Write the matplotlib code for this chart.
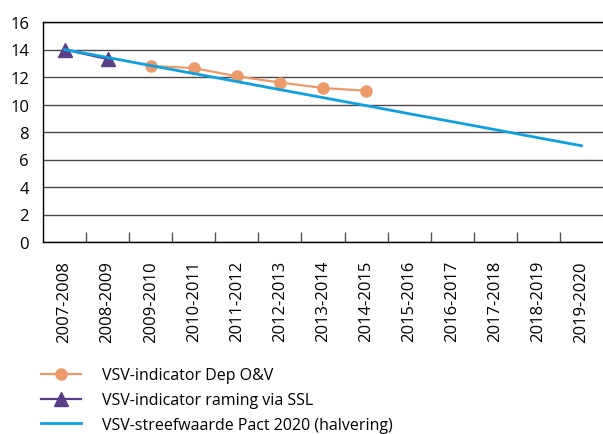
import matplotlib
matplotlib.use("Agg")
import matplotlib.pyplot as plt
import numpy as np

plt.rcParams['font.family'] = ['Open Sans', 'DejaVu Sans']

## data
years = ['2007-2008', '2008-2009', '2009-2010', '2010-2011', '2011-2012',
         '2012-2013', '2013-2014', '2014-2015', '2015-2016', '2016-2017',
         '2017-2018', '2018-2019', '2019-2020']
dep_ov = [None, None, 12.8, 12.65, 12.05, 11.6, 11.2, 11.0, None, None, None, None, None]
ssl = [14.0, 13.3, None, None, None, None, None, None, None, None, None, None, None]
pact = [14.0, 13.42, 12.83, 12.25, 11.67, 11.08, 10.5, 9.92, 9.33, 8.75, 8.17, 7.58, 7.0]

def arr(v):
    return np.array([np.nan if x is None else x for x in v], dtype=float)

x = np.arange(len(years))

fig = plt.figure(figsize=(6.03, 4.35), dpi=100)
ax = fig.add_axes([43/603, 1 - 243/435, 560/603, 220/435])

ax.plot(x, arr(dep_ov), color='#EC9A6A', lw=1.6, marker='o', markersize=8,
        label='VSV-indicator Dep O&V', zorder=3)
ax.plot(x, arr(ssl), color='#5B3F86', lw=1.6, marker='^', markersize=9.5,
        label='VSV-indicator raming via SSL', zorder=4)
ax.plot(x, arr(pact), color='#0FA0E0', lw=2.0,
        label='VSV-streefwaarde Pact 2020 (halvering)', zorder=5)

ax.set_xlim(-0.5, len(years) - 0.5)
ax.set_ylim(0, 16)
ax.set_yticks(range(0, 17, 2))
ax.yaxis.grid(True, color='#4a4a4a', lw=1.0)
ax.set_axisbelow(True)

ax.set_xticks(x)
ax.set_xticklabels(years, rotation=90, fontsize=12)
ax.set_xticks(np.arange(0.5, len(years) - 0.5, 1), minor=True)
ax.tick_params(axis='x', which='major', length=0, pad=13)
ax.tick_params(axis='x', which='minor', direction='in', length=7.5, width=1, color='#555555')
ax.tick_params(axis='y', length=0, pad=10, labelsize=12)

for s in ['top', 'left', 'bottom']:
    ax.spines[s].set_color('black')
    ax.spines[s].set_linewidth(1.0)
ax.spines['right'].set_visible(False)

fig.legend(loc='upper left', bbox_to_anchor=(0.068, 0.153), frameon=False,
           fontsize=11.5, handlelength=2.5, handletextpad=1.35, labelspacing=0.55,
           borderpad=0, borderaxespad=0)

plt.savefig('out.png', dpi=100)
plt.close()
